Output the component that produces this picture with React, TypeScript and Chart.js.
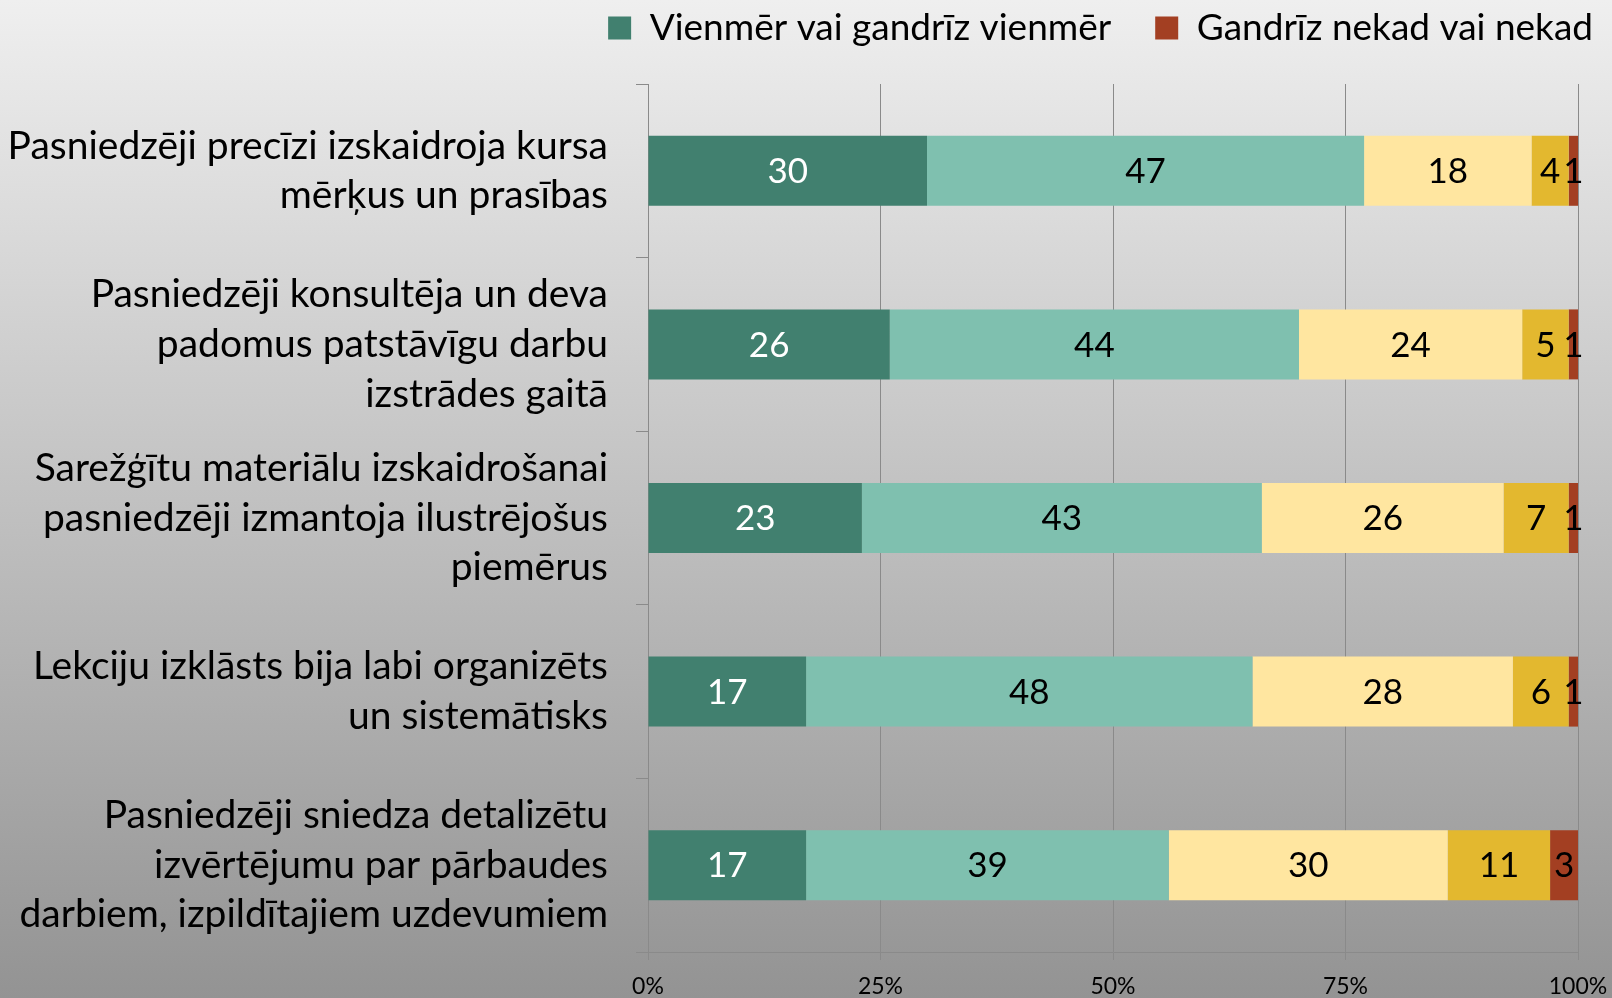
import React, { useEffect, useRef } from "react";
import { Chart, registerables } from "chart.js";

Chart.register(...registerables);

const categories: string[][] = [
  ["Pasniedzēji precīzi izskaidroja kursa", "mērķus un prasības"],
  ["Pasniedzēji konsultēja un deva", "padomus patstāvīgu darbu", "izstrādes gaitā"],
  ["Sarežģītu materiālu izskaidrošanai", "pasniedzēji izmantoja ilustrējošus", "piemērus"],
  ["Lekciju izklāsts bija labi organizēts", "un sistemātisks"],
  ["Pasniedzēji sniedza detalizētu", "izvērtējumu par pārbaudes", "darbiem, izpildītajiem uzdevumiem"],
];

const seriesNames = [
  "Vienmēr vai gandrīz vienmēr",
  "Bieži",
  "Dažreiz",
  "Reti",
  "Gandrīz nekad vai nekad",
];

const always = [30, 26, 23, 17, 17];
const often = [47, 44, 43, 48, 39];
const sometimes = [18, 24, 26, 28, 30];
const rarely = [4, 5, 7, 6, 11];
const never = [1, 1, 1, 1, 3];

const xTicks = [0, 25, 50, 75, 100];

const colors = ["#41806f", "#7fc0af", "#ffe6a0", "#e3b82f", "#a33f22"];
const labelColors = ["#ffffff", "#000000", "#000000", "#000000", "#000000"];

const FONT = "Lato";

const dataLabelPlugin = {
  id: "dataLabels",
  afterDatasetsDraw(chart: any) {
    const ctx = chart.ctx;
    ctx.save();
    ctx.font = `35px ${FONT}`;
    ctx.textAlign = "center";
    ctx.textBaseline = "middle";
    chart.data.datasets.forEach((ds: any, i: number) => {
      const meta = chart.getDatasetMeta(i);
      meta.data.forEach((el: any, j: number) => {
        const p = el.getProps(["x", "base", "y"], true);
        ctx.fillStyle = labelColors[i];
        ctx.fillText(String(ds.data[j]), (p.x + p.base) / 2, p.y + 1);
      });
    });
    ctx.restore();
  },
};

const legendPlacePlugin = {
  id: "legendPlace",
  afterLayout(chart: any) {
    const lg = chart.legend;
    if (!lg) return;
    const dy = -27.5;
    lg.top += dy;
    lg.bottom += dy;
    lg.right = 1637;
  },
};

export default function App() {
  const ref = useRef<HTMLCanvasElement | null>(null);

  useEffect(() => {
    document.body.style.margin = "0";
    const canvas = ref.current;
    if (!canvas) return;
    const values = [always, often, sometimes, rarely, never];
    const chart = new Chart(canvas, {
      type: "bar",
      data: {
        labels: categories,
        datasets: values.map((v, i) => ({
          label: seriesNames[i],
          data: v,
          backgroundColor: colors[i],
          borderWidth: 0,
          categoryPercentage: 1,
          barPercentage: 0.403,
        })),
      },
      options: {
        indexAxis: "y",
        animation: false,
        responsive: false,
        maintainAspectRatio: false,
        layout: { padding: { top: -7, right: 34, left: 0, bottom: 0 } },
        plugins: {
          tooltip: { enabled: false },
          legend: {
            position: "top",
            align: "end",
            labels: {
              filter: (item: any) => item.datasetIndex === 0 || item.datasetIndex === 4,
              boxWidth: 23,
              boxHeight: 23,
              padding: 44,
              color: "#000",
              font: { family: FONT, size: 37 },
            },
          },
        },
        scales: {
          x: {
            stacked: true,
            min: 0,
            max: 100,
            afterBuildTicks: (scale: any) => {
              scale.ticks = xTicks.map((v) => ({ value: v }));
            },
            afterFit: (scale: any) => {
              scale.height = 46;
              scale.paddingLeft = 0;
              scale.paddingRight = 0;
            },
            ticks: {
              callback: (v: any) => v + "%",
              color: "#000",
              padding: 13,
              maxRotation: 0,
              font: { family: FONT, size: 23 },
            },
            grid: { color: "#8a8a8a", tickLength: 8, lineWidth: 1 },
            border: { color: "#8a8a8a", width: 1 },
          },
          y: {
            stacked: true,
            afterFit: (scale: any) => {
              scale.width = 648;
              scale.paddingTop = 0;
              scale.paddingBottom = 0;
            },
            ticks: {
              color: "#000",
              padding: 28,
              font: { family: FONT, size: 39, lineHeight: 1.27 },
            },
            grid: {
              drawOnChartArea: false,
              color: "#8a8a8a",
              tickLength: 12,
              offset: true,
            },
            border: { color: "#8a8a8a", width: 1 },
          },
        },
      },
      plugins: [dataLabelPlugin, legendPlacePlugin],
    } as any);
    return () => chart.destroy();
  }, []);

  return (
    <div
      style={{
        position: "absolute",
        left: 0,
        top: 0,
        width: 1612,
        height: 998,
        background: "linear-gradient(#efefef, #939393)",
      }}
    >
      <canvas ref={ref} width={1612} height={998} style={{ display: "block" }} />
    </div>
  );
}
